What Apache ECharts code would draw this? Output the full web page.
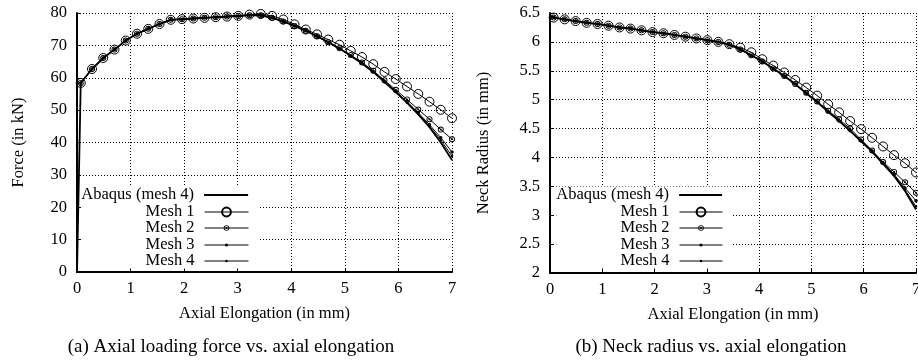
<!DOCTYPE html>
<html>
<head>
<meta charset="utf-8">
<script src="https://cdn.jsdelivr.net/npm/echarts@6/dist/echarts.min.js"></script>
<style>
  html, body { margin: 0; background: #fff; }
  #chart { width: 918px; height: 360px; }
</style>
</head>
<body>
<div id="chart"></div>
<script>
// axial elongation (mm) of the sampled points, same for every curve
const elongation = [0.07, 0.28, 0.49, 0.70, 0.91, 1.12, 1.33, 1.54, 1.75, 1.96, 2.17, 2.38,
  2.59, 2.80, 3.01, 3.22, 3.43, 3.64, 3.85, 4.06, 4.27, 4.48, 4.69, 4.90, 5.11, 5.32, 5.53,
  5.74, 5.95, 6.16, 6.37, 6.58, 6.79, 7.00];

// Abaqus curves also start from the unloaded state
const startElongation = 0;
const startForce = 0;
const startRadius = 6.45;

// force (kN)
const forceAbaqus = [58.4, 62.7, 66.1, 68.7, 71.5, 73.6, 75.1, 76.6, 77.9, 78.1, 78.3, 78.5,
  78.7, 78.9, 79.1, 79.3, 79.3, 78.5, 77.4, 76.0, 74.5, 72.8, 71.0, 69.0, 66.8, 64.4, 61.8,
  58.7, 55.6, 52.3, 48.7, 44.7, 40.0, 34.6];
const forceMesh1 = [58.4, 62.7, 66.1, 68.7, 71.5, 73.6, 75.1, 76.6, 77.9, 78.1, 78.3, 78.5,
  78.7, 78.9, 79.1, 79.5, 79.7, 79.1, 78.0, 76.5, 74.9, 73.4, 71.8, 70.2, 68.3, 66.4, 64.2,
  61.8, 59.6, 57.3, 55.0, 52.6, 50.1, 47.5];
const forceMesh2 = [58.4, 62.7, 66.1, 68.7, 71.5, 73.6, 75.1, 76.6, 77.9, 78.1, 78.3, 78.5,
  78.7, 78.9, 79.1, 79.3, 79.3, 78.5, 77.4, 76.0, 74.5, 72.8, 71.0, 69.1, 67.0, 64.7, 62.2,
  59.2, 56.3, 53.3, 50.2, 47.2, 44.0, 41.0];
const forceMesh3 = [58.4, 62.7, 66.1, 68.7, 71.5, 73.6, 75.1, 76.6, 77.9, 78.1, 78.3, 78.5,
  78.7, 78.9, 79.1, 79.3, 79.3, 78.5, 77.4, 76.0, 74.5, 72.8, 71.0, 69.0, 66.8, 64.5, 61.9,
  58.8, 55.8, 52.6, 49.2, 45.5, 41.5, 37.1];
const forceMesh4 = [58.4, 62.7, 66.1, 68.7, 71.5, 73.6, 75.1, 76.6, 77.9, 78.1, 78.3, 78.5,
  78.7, 78.9, 79.1, 79.3, 79.3, 78.5, 77.4, 76.0, 74.5, 72.8, 71.0, 69.0, 66.8, 64.4, 61.8,
  58.7, 55.6, 52.3, 48.8, 45.0, 40.8, 35.8];

// neck radius (mm)
const radiusAbaqus = [6.42, 6.39, 6.36, 6.33, 6.31, 6.28, 6.25, 6.23, 6.20, 6.17, 6.15, 6.12,
  6.09, 6.06, 6.03, 6.00, 5.95, 5.87, 5.77, 5.66, 5.54, 5.41, 5.27, 5.11, 4.96, 4.79, 4.63,
  4.46, 4.28, 4.10, 3.89, 3.68, 3.42, 3.10];
const radiusMesh1 = [6.42, 6.39, 6.36, 6.33, 6.31, 6.28, 6.25, 6.23, 6.20, 6.17, 6.15, 6.12,
  6.09, 6.06, 6.03, 6.00, 5.96, 5.90, 5.82, 5.70, 5.59, 5.47, 5.34, 5.21, 5.07, 4.92, 4.78,
  4.63, 4.49, 4.34, 4.19, 4.04, 3.90, 3.74];
const radiusMesh2 = [6.42, 6.39, 6.36, 6.33, 6.31, 6.28, 6.25, 6.23, 6.20, 6.17, 6.15, 6.12,
  6.09, 6.06, 6.03, 6.00, 5.95, 5.87, 5.77, 5.66, 5.54, 5.41, 5.27, 5.12, 4.97, 4.81, 4.66,
  4.50, 4.31, 4.12, 3.92, 3.75, 3.57, 3.39];
const radiusMesh3 = [6.42, 6.39, 6.36, 6.33, 6.31, 6.28, 6.25, 6.23, 6.20, 6.17, 6.15, 6.12,
  6.09, 6.06, 6.03, 6.00, 5.95, 5.87, 5.77, 5.66, 5.54, 5.41, 5.27, 5.11, 4.96, 4.79, 4.63,
  4.46, 4.29, 4.11, 3.91, 3.71, 3.47, 3.25];
const radiusMesh4 = [6.42, 6.39, 6.36, 6.33, 6.31, 6.28, 6.25, 6.23, 6.20, 6.17, 6.15, 6.12,
  6.09, 6.06, 6.03, 6.00, 5.95, 5.87, 5.77, 5.66, 5.54, 5.41, 5.27, 5.11, 4.96, 4.79, 4.63,
  4.46, 4.28, 4.10, 3.90, 3.69, 3.44, 3.15];

const seriesNames = ['Abaqus (mesh 4)', 'Mesh 1', 'Mesh 2', 'Mesh 3', 'Mesh 4'];
const captions = ['(a) Axial loading force vs. axial elongation', '(b) Neck radius vs. axial elongation'];

const FONT = "'Liberation Serif', 'Times New Roman', serif";
const BLACK = '#000';
const NONE = 'rgba(0,0,0,0)';
// small ring with a dot in the middle (gnuplot point type of mesh 2)
const RING_DOT = 'path://M10,0A10,10,0,1,1,10,20A10,10,0,1,1,10,0Z' +
  'M10,3A7,7,0,1,0,10,17A7,7,0,1,0,10,3Z' +
  'M10,6.5A3.5,3.5,0,1,1,10,13.5A3.5,3.5,0,1,1,10,6.5Z';

function pairs(ys) {
  return elongation.map((x, i) => [x, ys[i]]);
}

const textBase = { fontFamily: FONT, fontSize: 16.5, color: BLACK };

function xAxis(gridIndex) {
  return {
    type: 'value', gridIndex, min: 0, max: 7, interval: 1,
    name: 'Axial Elongation (in mm)', nameLocation: 'middle', nameGap: 33,
    nameTextStyle: { ...textBase },
    axisLine: { onZero: false, lineStyle: { color: BLACK, width: 2 } },
    axisTick: { inside: true, length: 4, lineStyle: { color: BLACK, width: 1 } },
    axisLabel: { ...textBase, margin: 8 },
    splitLine: { show: true, lineStyle: { color: BLACK, width: 1, type: [1, 2] } }
  };
}

function yAxis(gridIndex, name, min, max, interval, nameGap) {
  return {
    type: 'value', gridIndex, min, max, interval,
    name, nameLocation: 'middle', nameGap,
    nameTextStyle: { ...textBase },
    axisLine: { show: true, onZero: false, lineStyle: { color: BLACK, width: 2 } },
    axisTick: { show: true, inside: true, length: 4, lineStyle: { color: BLACK, width: 1 } },
    axisLabel: { ...textBase, margin: 10 },
    splitLine: { show: true, lineStyle: { color: BLACK, width: 1, type: [1, 2] } }
  };
}

function curves(idx, start, abaqus, m1, m2, m3, m4) {
  const base = {
    type: 'line', xAxisIndex: idx, yAxisIndex: idx, silent: true,
    emphasis: { disabled: true }
  };
  return [
    { ...base, name: seriesNames[0], data: [start].concat(pairs(abaqus)), symbol: 'none',
      itemStyle: { color: NONE, borderWidth: 0 },
      lineStyle: { color: BLACK, width: 1.8 } },
    { ...base, name: seriesNames[1], data: pairs(m1), symbol: 'circle', symbolSize: 9,
      itemStyle: { color: NONE, borderColor: BLACK, borderWidth: 1 },
      lineStyle: { color: BLACK, width: 1 } },
    { ...base, name: seriesNames[2], data: pairs(m2), symbol: RING_DOT, symbolSize: 6,
      itemStyle: { color: BLACK, borderWidth: 0 },
      lineStyle: { color: BLACK, width: 1 } },
    { ...base, name: seriesNames[3], data: pairs(m3), symbol: 'circle', symbolSize: 3.5,
      itemStyle: { color: BLACK, borderWidth: 0 },
      lineStyle: { color: BLACK, width: 1 } },
    { ...base, name: seriesNames[4], data: pairs(m4), symbol: 'circle', symbolSize: 2.5,
      itemStyle: { color: BLACK, borderWidth: 0 },
      lineStyle: { color: BLACK, width: 1 } }
  ];
}

// one legend per entry so each key keeps its own marker size
const keyRows = [194.5, 211.5, 227.5, 244.5, 260.5];
const keyHeights = [10, 11, 7, 4, 3];
const keyLineWidths = [1.8, 1, 1, 1, 1];

function keys(lineRight, lineWidth) {
  return seriesNames.map((name, i) => {
    const k = {
      data: [name], orient: 'vertical', align: 'right',
      right: 918 - lineRight, top: keyRows[i] - 8,
      itemWidth: lineWidth, itemHeight: keyHeights[i], padding: 0,
      selectedMode: false, z: 4,
      lineStyle: { width: keyLineWidths[i] },
      textStyle: { ...textBase, lineHeight: 16, padding: [0, 5, 0, 0] }
    };
    if (i === 0) {
      // first key also carries the white key box that hides the grid
      k.backgroundColor = '#fff';
      k.padding = [0, 10, 65, 0];
      k.right = 918 - lineRight - 10;
      k.z = 3;
    }
    return k;
  });
}

const option = {
  animation: false,
  grid: [
    { left: 77, right: 466, top: 13, bottom: 88, outerBoundsMode: 'none' },
    { left: 550, right: 2, top: 13, bottom: 87, outerBoundsMode: 'none' }
  ],
  xAxis: [xAxis(0), xAxis(1)],
  yAxis: [
    yAxis(0, 'Force (in kN)', 0, 80, 10, 50),
    yAxis(1, 'Neck Radius (in mm)', 2, 6.5, 0.5, 58)
  ],
  legend: keys(249, 44).concat(keys(723, 43)),
  series: curves(0, [startElongation, startForce], forceAbaqus, forceMesh1, forceMesh2, forceMesh3, forceMesh4)
    .concat(curves(1, [startElongation, startRadius], radiusAbaqus, radiusMesh1, radiusMesh2, radiusMesh3, radiusMesh4)),
  graphic: [
    { type: 'text', x: 231, y: 347, silent: true,
      style: { text: captions[0], fontFamily: FONT, fontSize: 19, fill: BLACK, align: 'center', verticalAlign: 'middle' } },
    { type: 'text', x: 711, y: 347, silent: true,
      style: { text: captions[1], fontFamily: FONT, fontSize: 19, fill: BLACK, align: 'center', verticalAlign: 'middle' } }
  ]
};

const myChart = echarts.init(document.getElementById('chart'), null, { renderer: 'canvas' });
myChart.setOption(option);
</script>
</body>
</html>
